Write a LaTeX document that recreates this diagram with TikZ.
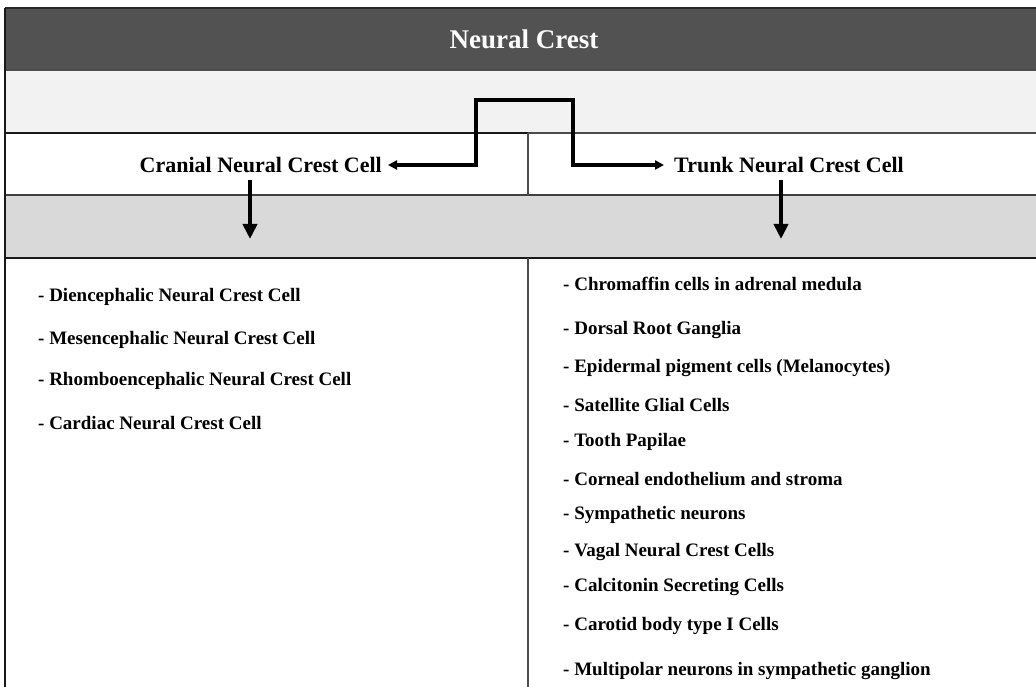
\documentclass[tikz,border=0pt]{standalone}
\usepackage{fontspec}
\setmainfont{Liberation Serif}
\usetikzlibrary{arrows.meta}

\begin{document}
\begin{tikzpicture}[x=1pt,y=-1pt,%%
  bandStyle/.style={draw=black!85,line width=1.2pt},%%
  ruleStyle/.style={-,line width=2.6pt,draw=black!90},%%
  midStyle/.style={-,line width=1.8pt,draw=black!75},%%
  thinStyle/.style={-,line width=1.2pt,draw=black!70},%%
  arrowStyle/.style={{Triangle[length=9pt,width=9pt]}-{Triangle[length=9pt,width=9pt]},line width=3.2pt,line join=miter},%%
  downStyle/.style={-{Triangle[length=15pt,width=14pt]},line width=4pt},%%
  headStyle/.style={font=\fontsize{22}{24}\selectfont\bfseries,inner xsep=6pt,inner ysep=2pt},%%
  itemStyle/.style={font=\fontsize{19}{21}\selectfont\bfseries,anchor=west,inner sep=0pt}%%
]
%%
\pgfmathsetmacro{\wfull}{1036}
\pgfmathsetmacro{\hfull}{687}
\pgfmathsetmacro{\xleft}{5}
\pgfmathsetmacro{\xmid}{528}
%%
\useasboundingbox (0,0) rectangle (\wfull,\hfull);
\fill[white] (0,0) rectangle (\wfull,\hfull);
%%
%% The bands.
\fill[black!68] (\xleft,8) rectangle (\wfull,70);
\fill[black!5] (\xleft,70) rectangle (\wfull,133);
\fill[black!15] (\xleft,195) rectangle (\wfull,258);
\draw[bandStyle] (\xleft,8) -- (\wfull,8);
\draw[thinStyle] (\xleft,70) -- (\wfull,70);
\draw[ruleStyle] (\xleft,133) -- (\xmid,133);
\draw[thinStyle] (\xmid,133) -- (\wfull,133);
\draw[midStyle] (\xleft,195) -- (\wfull,195);
\draw[ruleStyle] (\xleft,258) -- (\wfull,258);
%% Left border and the middle divider.
\draw[ruleStyle] (\xleft,8) -- (\xleft,\hfull);
\draw[thinStyle] (\xmid,133) -- (\xmid,195);
\draw[thinStyle] (\xmid,258) -- (\xmid,\hfull);
%%
%% The title.
\node[font=\fontsize{27}{29}\selectfont\bfseries,text=white] (crest) at (524,39) {Neural Crest};
%%
%% The two cell types.
\node[headStyle,anchor=east] (cranial) at (388,165) {Cranial Neural Crest Cell};
\node[headStyle,anchor=west,inner xsep=10pt] (trunk) at (664,165) {Trunk Neural Crest Cell};
\coordinate (splitL) at (476,100);
\coordinate (splitR) at (573,100);
\draw[arrowStyle] (cranial.east) -| (splitL) -- (splitR) |- (trunk.west);
%%
%% Arrows down to the lists.
\coordinate (cranialTip) at (250,239);
\coordinate (trunkTip) at (781,239);
\draw[downStyle] (cranial.south -| cranialTip) ++(0,5) -- (cranialTip);
\draw[downStyle] (trunk.south -| trunkTip) ++(0,5) -- (trunkTip);
%%
%% Cranial list.
\node[itemStyle] (dien) at (38,297) {- Diencephalic Neural Crest Cell};
\node[itemStyle] (mesen) at (38,340) {- Mesencephalic Neural Crest Cell};
\node[itemStyle] (rhombo) at (38,381) {- Rhomboencephalic Neural Crest Cell};
\node[itemStyle] (cardiac) at (38,423) {- Cardiac Neural Crest Cell};
%%
%% Trunk list.
\node[itemStyle] (chrom) at (563,284) {- Chromaffin cells in adrenal medula};
\node[itemStyle] (dorsal) at (563,330) {- Dorsal Root Ganglia};
\node[itemStyle] (epid) at (563,368) {- Epidermal pigment cells (Melanocytes)};
\node[itemStyle] (satel) at (563,405) {- Satellite Glial Cells};
\node[itemStyle] (tooth) at (563,442) {- Tooth Papilae};
\node[itemStyle] (corneal) at (563,479) {- Corneal endothelium and stroma};
\node[itemStyle] (symp) at (563,515) {- Sympathetic neurons};
\node[itemStyle] (vagal) at (563,552) {- Vagal Neural Crest Cells};
\node[itemStyle] (calci) at (563,587) {- Calcitonin Secreting Cells};
\node[itemStyle] (carotid) at (563,626) {- Carotid body type I Cells};
\node[itemStyle] (multi) at (563,671) {- Multipolar neurons in sympathetic ganglion};
\end{tikzpicture}
\end{document}
